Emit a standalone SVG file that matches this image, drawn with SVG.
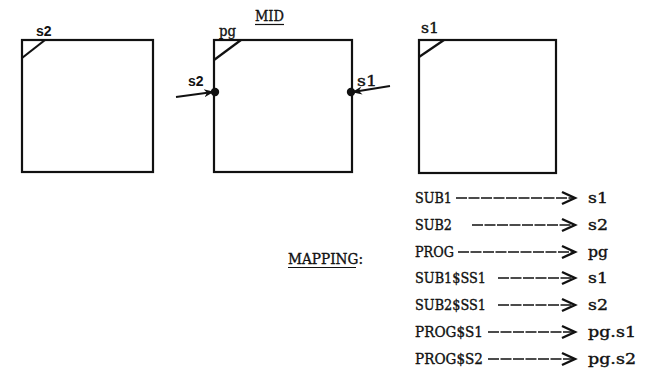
<svg xmlns="http://www.w3.org/2000/svg" width="647" height="368" viewBox="0 0 647 368">
<defs>
<style>
.box{fill:none;stroke:#111;stroke-width:2.2}
.tw{font-family:"DejaVu Serif","Liberation Serif",serif;font-size:14px;fill:#111;stroke:#111;stroke-width:0.35}
.sb{font-family:"Liberation Sans",Arial,sans-serif;font-size:14px;font-weight:bold;fill:#111}
.map{fill:none;stroke:#111;stroke-width:1.7;stroke-dasharray:11 1.5}
.head{fill:none;stroke:#111;stroke-width:2.4;stroke-linejoin:miter}
.port{stroke:#111;stroke-width:2;fill:none}
</style>
<marker id="pa" viewBox="0 0 10 10" refX="9" refY="5" markerWidth="5" markerHeight="5" orient="auto" markerUnits="strokeWidth">
<path d="M0,1 L10,5 L0,9 L3,5 z" fill="#111"/>
</marker>
</defs>
<rect width="647" height="368" fill="#fff"/>

<g id="box-s2">
<rect class="box" x="22" y="40" width="131" height="132"/>
<line class="box" x1="22" y1="58" x2="45" y2="40"/>
<text class="sb" x="36" y="36">s2</text>
</g>

<g id="box-mid">
<text class="tw" x="255" y="21" textLength="29" lengthAdjust="spacingAndGlyphs">MID</text>
<line x1="255" y1="24.5" x2="284" y2="24.5" stroke="#111" stroke-width="1.2"/>
<rect class="box" x="214" y="40" width="138" height="132"/>
<line class="box" x1="214" y1="60" x2="241" y2="40"/>
<text class="tw" x="219" y="36" textLength="17" lengthAdjust="spacingAndGlyphs">pg</text>
<circle cx="215" cy="92" r="4.2" fill="#111"/>
<circle cx="351" cy="92" r="4.2" fill="#111"/>
<text class="sb" x="188" y="86">s2</text>
<text class="tw" x="357" y="86" textLength="20" lengthAdjust="spacingAndGlyphs">s1</text>
</g>

<g id="box-s1">
<rect class="box" x="419" y="40" width="137" height="133"/>
<line class="box" x1="419" y1="57" x2="444" y2="40"/>
<text class="tw" x="421" y="33" textLength="18" lengthAdjust="spacingAndGlyphs">s1</text>
</g>

<g id="connectors">
<line class="port" x1="176" y1="97" x2="213" y2="92" marker-end="url(#pa)"/>
<line class="port" x1="390" y1="86" x2="353" y2="92" marker-end="url(#pa)"/>
</g>

<g id="mapping">
<text class="tw" x="288" y="264" textLength="75" lengthAdjust="spacingAndGlyphs">MAPPING:</text>
<line x1="288" y1="267.5" x2="356" y2="267.5" stroke="#111" stroke-width="1.2"/>

<text class="tw" x="415" y="203" textLength="37" lengthAdjust="spacingAndGlyphs">SUB1</text>
<line class="map" x1="456" y1="198" x2="573" y2="198"/>
<path class="head" d="M562,192 L575,198 L562,204"/>
<text class="tw" x="588" y="203" textLength="20" lengthAdjust="spacingAndGlyphs">s1</text>

<text class="tw" x="415" y="230" textLength="37" lengthAdjust="spacingAndGlyphs">SUB2</text>
<line class="map" x1="472" y1="225" x2="573" y2="225"/>
<path class="head" d="M562,219 L575,225 L562,231"/>
<text class="tw" x="588" y="230" textLength="20" lengthAdjust="spacingAndGlyphs">s2</text>

<text class="tw" x="415" y="257" textLength="39" lengthAdjust="spacingAndGlyphs">PROG</text>
<line class="map" x1="458" y1="252" x2="573" y2="252"/>
<path class="head" d="M562,246 L575,252 L562,258"/>
<text class="tw" x="588" y="257" textLength="20" lengthAdjust="spacingAndGlyphs">pg</text>

<text class="tw" x="415" y="283" textLength="71" lengthAdjust="spacingAndGlyphs">SUB1$SS1</text>
<line class="map" x1="498" y1="278" x2="573" y2="278"/>
<path class="head" d="M562,272 L575,278 L562,284"/>
<text class="tw" x="588" y="283" textLength="20" lengthAdjust="spacingAndGlyphs">s1</text>

<text class="tw" x="415" y="310" textLength="71" lengthAdjust="spacingAndGlyphs">SUB2$SS1</text>
<line class="map" x1="498" y1="305" x2="573" y2="305"/>
<path class="head" d="M562,299 L575,305 L562,311"/>
<text class="tw" x="588" y="310" textLength="20" lengthAdjust="spacingAndGlyphs">s2</text>

<text class="tw" x="415" y="337" textLength="68" lengthAdjust="spacingAndGlyphs">PROG$S1</text>
<line class="map" x1="488" y1="332" x2="573" y2="332"/>
<path class="head" d="M562,326 L575,332 L562,338"/>
<text class="tw" x="588" y="337" textLength="48" lengthAdjust="spacingAndGlyphs">pg.s1</text>

<text class="tw" x="415" y="364" textLength="68" lengthAdjust="spacingAndGlyphs">PROG$S2</text>
<line class="map" x1="488" y1="359" x2="573" y2="359"/>
<path class="head" d="M562,353 L575,359 L562,365"/>
<text class="tw" x="588" y="364" textLength="48" lengthAdjust="spacingAndGlyphs">pg.s2</text>
</g>
</svg>
